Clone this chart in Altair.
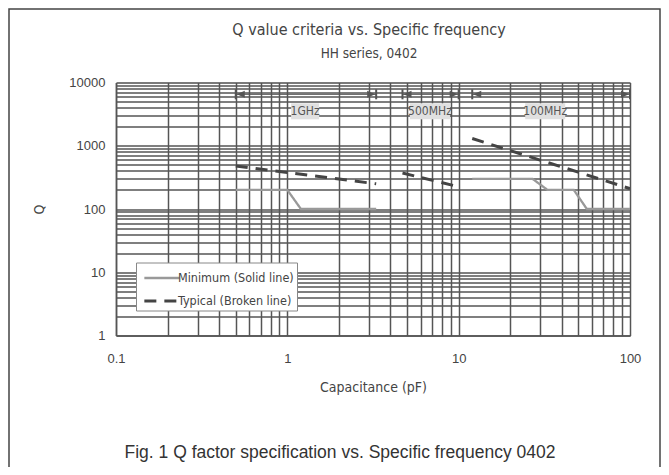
import altair as alt
import pandas as pd

# ---------------- data ----------------
series_names = ["Minimum (Solid line)", "Typical (Broken line)"]

# Minimum Q (solid line)
min_1g_cap = [0.5, 1.0, 1.2, 3.3]
min_1g_q = [200, 200, 100, 100]
min_100m_cap = [12, 27, 33, 47, 56, 100]
min_100m_q = [300, 300, 200, 200, 100, 100]

# Typical Q (broken line)
typ_1g_cap = [0.5, 3.3]
typ_1g_q = [480, 250]
typ_500m_cap = [4.7, 10]
typ_500m_q = [370, 225]
typ_100m_cap = [12, 100]
typ_100m_q = [1300, 210]

# Frequency bands (arrows at the top)
band_names = ["1GHz", "500MHz", "100MHz"]
band_lo = [0.5, 4.7, 12]
band_hi = [3.3, 10, 100]
band_label_cap = [1.27, 6.8, 32]
band_arrow_q = 6500
band_label_q = 3500

x_ticks = [0.1, 0.2, 0.3, 0.4, 0.5, 0.6, 0.7, 0.8, 0.9,
           1, 2, 3, 4, 5, 6, 7, 8, 9,
           10, 20, 30, 40, 50, 60, 70, 80, 90, 100]
y_ticks = [1, 2, 3, 4, 5, 6, 7, 8, 9,
           10, 20, 30, 40, 50, 60, 70, 80, 90,
           100, 200, 300, 400, 500, 600, 700, 800, 900,
           1000, 2000, 3000, 4000, 5000, 6000, 7000, 8000, 9000, 10000]

title_text = "Q value criteria vs. Specific frequency"
subtitle_text = "HH series, 0402"
caption = "Fig. 1 Q factor specification vs. Specific frequency 0402"

# ---------------- tables ----------------
rows = []
for seg, series, caps, qs in [
    ("min1g", series_names[0], min_1g_cap, min_1g_q),
    ("min100m", series_names[0], min_100m_cap, min_100m_q),
    ("typ1g", series_names[1], typ_1g_cap, typ_1g_q),
    ("typ500m", series_names[1], typ_500m_cap, typ_500m_q),
    ("typ100m", series_names[1], typ_100m_cap, typ_100m_q),
]:
    for c, q in zip(caps, qs):
        rows.append({"cap": c, "q": q, "series": series, "seg": seg})
df = pd.DataFrame(rows)

bands = pd.DataFrame({
    "name": band_names, "lo": band_lo, "hi": band_hi,
    "mid": band_label_cap,
    "qa": [band_arrow_q] * 3, "ql": [band_label_q] * 3,
})

NARROW = "Liberation Sans Narrow, DejaVu Sans Condensed, sans-serif"
ARIAL = "Liberation Sans, Arial, sans-serif"
GRID = "#555555"
W, H = 514, 253

xscale = alt.Scale(type="log", domain=[0.1, 100])
yscale = alt.Scale(type="log", domain=[1, 10000])

xaxis = alt.Axis(
    values=x_ticks, format="~g",
    labelExpr="indexof([0.1, 1, 10, 100], datum.value) >= 0 ? datum.label : ''",
    labelOverlap=False, labelFlush=False, ticks=False,
    grid=True, gridColor=GRID, gridWidth=1.5, gridOpacity=1,
    domainColor=GRID, domainWidth=1.5,
    labelFont=ARIAL, labelFontSize=13, labelColor="#444444", labelPadding=17,
    title="Capacitance (pF)", titleFont=NARROW, titleFontSize=14,
    titleFontWeight="normal", titleColor="#444444", titlePadding=15,
)
yaxis = alt.Axis(
    values=y_ticks, format="~g",
    labelExpr="indexof([1, 10, 100, 1000, 10000], datum.value) >= 0 ? datum.label : ''",
    labelOverlap=False, labelFlush=False, ticks=False,
    grid=True, gridColor=GRID, gridWidth=1.5, gridOpacity=1,
    domainColor=GRID, domainWidth=1.5,
    labelFont=ARIAL, labelFontSize=13, labelColor="#444444", labelPadding=11,
    title="Q", titleFont=NARROW, titleFontSize=14,
    titleFontWeight="normal", titleColor="#444444", titlePadding=22,
)

legend = alt.Legend(
    title=None, orient="none", legendX=20, legendY=180,
    fillColor="white", strokeColor="#888888", padding=3,
    symbolType="M-0.65,0H2.55", symbolSize=484, symbolStrokeWidth=2.5,
    labelFont=NARROW, labelFontSize=12.5, labelColor="#444444",
    labelOffset=14, rowPadding=4,
)

lines = alt.Chart(df).mark_line(clip=True).encode(
    x=alt.X("cap:Q", scale=xscale, axis=xaxis),
    y=alt.Y("q:Q", scale=yscale, axis=yaxis),
    color=alt.Color("series:N", scale=alt.Scale(domain=series_names, range=["#999999", "#444444"]), legend=legend),
    strokeDash=alt.StrokeDash("series:N", scale=alt.Scale(domain=series_names, range=[[1, 0], [12, 8]]), legend=legend),
    strokeWidth=alt.StrokeWidth("series:N", scale=alt.Scale(domain=series_names, range=[2.3, 3]), legend=None),
    detail="seg:N",
)

base_b = alt.Chart(bands)
arrow_line = base_b.mark_rule(color=GRID, strokeWidth=1).encode(
    x=alt.X("lo:Q", scale=xscale), x2="hi:Q", y=alt.Y("qa:Q", scale=yscale))
bar_lo = base_b.mark_point(shape="M0,-5V5", filled=False, stroke=GRID, strokeWidth=2, size=4, opacity=1).encode(
    x=alt.X("lo:Q", scale=xscale), y=alt.Y("qa:Q", scale=yscale))
bar_hi = base_b.mark_point(shape="M0,-5V5", filled=False, stroke=GRID, strokeWidth=2, size=4, opacity=1).encode(
    x=alt.X("hi:Q", scale=xscale), y=alt.Y("qa:Q", scale=yscale))
head_lo = base_b.mark_point(shape="M1,0L9,-3.5L9,3.5Z", filled=True, color=GRID, size=4, opacity=1).encode(
    x=alt.X("lo:Q", scale=xscale), y=alt.Y("qa:Q", scale=yscale))
head_hi = base_b.mark_point(shape="M-1,0L-9,-3.5L-9,3.5Z", filled=True, color=GRID, size=4, opacity=1).encode(
    x=alt.X("hi:Q", scale=xscale), y=alt.Y("qa:Q", scale=yscale))

label_box_short = base_b.transform_filter("length(datum.name) <= 4").mark_point(
    shape="M-14,-8H14V8H-14Z", filled=True, color="#e0e0e0", size=4, opacity=1).encode(
    x=alt.X("mid:Q", scale=xscale), y=alt.Y("ql:Q", scale=yscale))
label_box_long = base_b.transform_filter("length(datum.name) > 4").mark_point(
    shape="M-20,-8H20V8H-20Z", filled=True, color="#e0e0e0", size=4, opacity=1).encode(
    x=alt.X("mid:Q", scale=xscale), y=alt.Y("ql:Q", scale=yscale))
label_text = base_b.mark_text(font=NARROW, fontSize=12, color="#555555", baseline="middle").encode(
    x=alt.X("mid:Q", scale=xscale), y=alt.Y("ql:Q", scale=yscale), text="name:N")

titles = pd.DataFrame({"t": [title_text, subtitle_text], "k": ["title", "sub"]})
title_mark = alt.Chart(titles).transform_filter("datum.k == 'title'").mark_text(
    font=NARROW, fontSize=16, color="#444444", baseline="middle").encode(
    x=alt.value(W / 2 - 4), y=alt.value(-53), text="t:N")
subtitle_mark = alt.Chart(titles).transform_filter("datum.k == 'sub'").mark_text(
    font=NARROW, fontSize=13.5, color="#444444", baseline="middle").encode(
    x=alt.value(W / 2 - 4), y=alt.value(-29), text="t:N")

one = pd.DataFrame({"t": [caption]})
cap_text = alt.Chart(one).mark_text(font=ARIAL, fontSize=17.5, color="#333333", baseline="middle").encode(
    x=alt.value(224), y=alt.value(370), text="t:N")
frame = alt.Chart(one).mark_rect(fill=None, stroke="#444444", strokeWidth=1.5).encode(
    x=alt.value(-107), x2=alt.value(W + 30), y=alt.value(-73.5), y2=alt.value(H + 150))

chart = alt.layer(
    frame, lines, arrow_line, bar_lo, bar_hi, head_lo, head_hi,
    label_box_short, label_box_long, label_text, cap_text, title_mark, subtitle_mark,
).properties(
    width=W, height=H,
    autosize=alt.AutoSizeParams(type="none"),
    padding={"left": 108, "top": 74.5, "right": 31, "bottom": 131.5},
).configure_view(stroke=GRID, strokeWidth=1.5).configure(background="white")

chart.save("out.html", embed_options={"renderer": "svg", "actions": False})
